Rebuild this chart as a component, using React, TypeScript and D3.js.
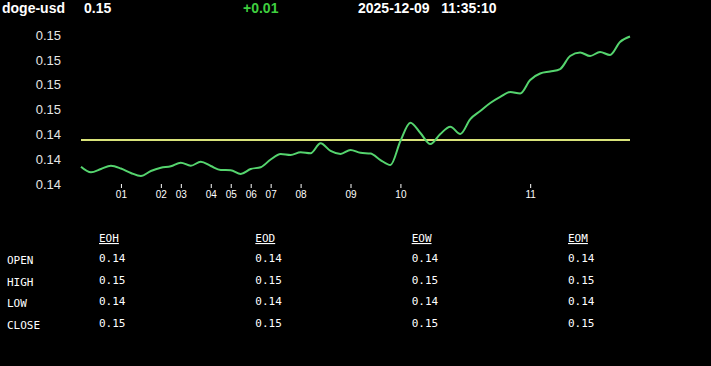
import { useRef, useEffect } from "react";
import * as d3 from "d3";

// header
const symbol = "doge-usd";
const lastPrice = "0.15";
const change = "+0.01";
const stamp = "2025-12-09   11:35:10";

// price samples, oldest first
const prices = [
  0.14139, 0.14094, 0.14121, 0.14147, 0.14125, 0.14089, 0.14064, 0.14105,
  0.14131, 0.14143, 0.14172, 0.14147, 0.14179, 0.14145, 0.14113, 0.14111,
  0.14081, 0.14121, 0.14135, 0.14197, 0.14242, 0.14234, 0.14255, 0.14247,
  0.14328, 0.14266, 0.14242, 0.14274, 0.14251, 0.14246, 0.14193, 0.14153,
  0.14346, 0.14494, 0.14411, 0.14322, 0.14403, 0.14461, 0.14403, 0.14523,
  0.14588, 0.14652, 0.14701, 0.14741, 0.14729, 0.14838, 0.1489, 0.14906,
  0.14926, 0.15031, 0.15059, 0.15031, 0.15063, 0.15039, 0.15144, 0.15188
];
const openLevel = 0.14354;

// hour ticks (sample index where each hour starts)
const hourIdx = [4, 8, 10, 13, 15, 17, 19, 22, 27, 32, 45];
const hourLabels = ["01", "02", "03", "04", "05", "06", "07", "08", "09", "10", "11"];

const yTicks = [0.14, 0.142, 0.144, 0.146, 0.148, 0.15, 0.152];

// summary table
const periods = ["EOH", "EOD", "EOW", "EOM"];
const rowNames = ["OPEN", "HIGH", "LOW", "CLOSE"];
const openVals = [0.14, 0.14, 0.14, 0.14];
const highVals = [0.15, 0.15, 0.15, 0.15];
const lowVals = [0.14, 0.14, 0.14, 0.14];
const closeVals = [0.15, 0.15, 0.15, 0.15];

export default function App() {
  const ref = useRef<SVGSVGElement>(null);

  const chartAttr = { width: 711, height: 366, left: 81, right: 630, top: 35, bottom: 184 };

  useEffect(() => {
    document.body.style.margin = "0";
    document.body.style.background = "#000";

    const svg = d3.select(ref.current);
    svg.selectAll("*").remove();
    svg.attr("width", chartAttr.width).attr("height", chartAttr.height);

    svg.append("rect").attr("width", chartAttr.width).attr("height", chartAttr.height).attr("fill", "#000");

    // header line
    const head = svg.append("g")
      .attr("font-family", "Arial, 'Liberation Sans', sans-serif")
      .attr("font-weight", "bold")
      .attr("font-size", 14)
      .attr("fill", "#fff");
    head.append("text").attr("x", 2).attr("y", 13).text(symbol);
    head.append("text").attr("x", 84).attr("y", 13).text(lastPrice);
    head.append("text").attr("x", 243).attr("y", 13).attr("fill", "#3fcf3f").text(change);
    head.append("text").attr("x", 358).attr("y", 13).style("white-space", "pre").text(stamp);

    const xScale = d3.scaleLinear()
      .domain([0, prices.length - 1])
      .range([chartAttr.left, chartAttr.right]);

    const yScale = d3.scaleLinear()
      .domain([0.14, 0.152])
      .range([chartAttr.bottom, chartAttr.top]);

    // y axis labels
    const yAxis = d3.axisLeft(yScale).tickValues(yTicks).tickFormat(d3.format(".2f")).tickSize(0).tickPadding(0);
    const yg = svg.append("g").attr("transform", "translate(61,0)").call(yAxis);
    yg.select(".domain").remove();
    yg.selectAll("text")
      .attr("fill", "#e6e6e6")
      .attr("font-size", 13)
      .attr("font-family", "Arial, 'Liberation Sans', sans-serif");

    // x axis with hour ticks
    const xAxis = d3.axisBottom(xScale)
      .tickValues(hourIdx)
      .tickFormat((d, i) => hourLabels[i])
      .tickSize(4)
      .tickPadding(3);
    const xg = svg.append("g").attr("transform", "translate(0,184)").call(xAxis);
    xg.select(".domain").remove();
    xg.selectAll("line").attr("stroke", "#fff");
    xg.selectAll("text")
      .attr("fill", "#fff")
      .attr("font-size", 10)
      .attr("font-family", "Arial, 'Liberation Sans', sans-serif");

    // open level
    svg.append("line")
      .attr("x1", xScale(0)).attr("x2", xScale(prices.length - 1))
      .attr("y1", yScale(openLevel)).attr("y2", yScale(openLevel))
      .attr("stroke", "#d9e37a")
      .attr("stroke-width", 2);

    // price line
    const line = d3.line<number>()
      .x((d, i) => xScale(i))
      .y(d => yScale(d))
      .curve(d3.curveMonotoneX);
    svg.append("path")
      .datum(prices)
      .attr("d", line)
      .attr("fill", "none")
      .attr("stroke", "#55d46e")
      .attr("stroke-width", 2);

    // table
    const colX = d3.scalePoint().domain(periods).range([99, 568]);
    const rowY = d3.scalePoint().domain(rowNames).range([264, 329]);
    const rows = [openVals, highVals, lowVals, closeVals];

    const tbl = svg.append("g")
      .attr("font-family", "'DejaVu Sans Mono', monospace")
      .attr("font-size", 11)
      .attr("fill", "#fff");

    tbl.selectAll(".hdr")
      .data(periods)
      .enter()
      .append("text")
      .attr("x", d => colX(d)!)
      .attr("y", 242)
      .attr("text-decoration", "underline")
      .text(d => d);

    tbl.selectAll(".rowname")
      .data(rowNames)
      .enter()
      .append("text")
      .attr("x", 7)
      .attr("y", d => rowY(d)!)
      .text(d => d);

    rows.forEach((vals, r) => {
      tbl.selectAll(null)
        .data(vals)
        .enter()
        .append("text")
        .attr("x", (d, i) => colX(periods[i])!)
        .attr("y", rowY(rowNames[r])! - 2)
        .text(d => d.toFixed(2));
    });
  }, []);

  return (
    <div style={{ position: "absolute", left: 0, top: 0 }}>
      <svg ref={ref} style={{ display: "block" }} />
    </div>
  );
}
